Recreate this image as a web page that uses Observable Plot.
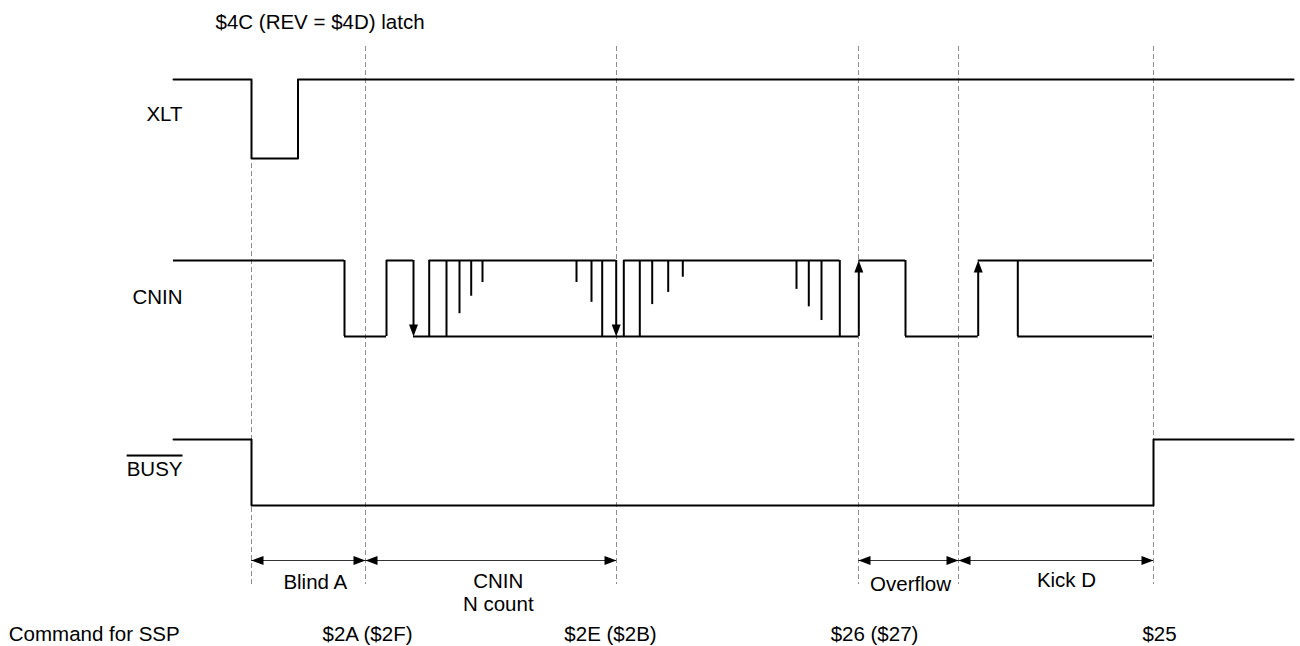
<!DOCTYPE html>
<html><head><meta charset="utf-8">
<script src="https://cdn.jsdelivr.net/npm/d3@7"></script>
<script src="https://cdn.jsdelivr.net/npm/@observablehq/plot@0.6"></script>
<style>body{margin:0;background:#fff}</style>
</head><body><div id="chart"></div>
<script>
// ---------- data (time axis in arbitrary timing units, levels 0 = low, 1 = high) ----------
const titleText = "$4C (REV = $4D) latch";
const signalNames = ["XLT", "CNIN", "BUSY"];
const xltT = [173, 251, 297.5, 1293];
const xltV = [1, 0, 1, 1];
const busyT = [173, 251, 1153, 1293];
const busyV = [1, 0, 1, 1];
const cninHighFrom = [173, 386, 428.7, 623.3, 858.3, 977.7];
const cninHighTo   = [344, 413, 615.7, 839.3, 905, 1152];
const cninLowFrom  = [344, 413, 905, 1017.3];
const cninLowTo    = [386, 858.3, 977.7, 1152];
const cninEdgeT = [344, 386, 428.7, 446, 601.7, 623.3, 639.3, 839.3, 905, 1017.3];
const cninDownArrowT = [413, 615.7];
const cninUpArrowT = [858.3, 977.7];
const glitchT = [459, 470.7, 482, 576, 591, 651.7, 667.7, 682.3, 796, 808.3, 821];
const glitchLevel = [0.30, 0.53, 0.71, 0.71, 0.45, 0.42, 0.58, 0.78, 0.62, 0.39, 0.21];
const markerT = [251, 365, 616, 858, 958, 1153];
const spanStart = [251, 365, 858, 958];
const spanEnd = [365, 616, 958, 1153];
const spanLabels = ["Blind A", "CNIN", "N count", "Overflow", "Kick D"];
const spanLabelT = [314.8, 497.8, 497.8, 910, 1066];
const commandHeader = "Command for SSP";
const commandLabels = ["$2A ($2F)", "$2E ($2B)", "$26 ($27)", "$25"];
const commandT = [367, 610, 874, 1159];

// ---------- layout ----------
const W = 1300, H = 646;
const FS = 20.5;
const lanes = {XLT: {hi: 79, lo: 158, label: 120.7}, CNIN: {hi: 260, lo: 336, label: 303}, BUSY: {hi: 439, lo: 505, label: 475}};
const labelRight = 182;
const markerTop = 46, markerBottom = 584, firstMarkerTop = 163;
const spanY = 560;
const spanLabelBase = [588, 587.3, 610, 590, 586.7];
const commandBase = 640;
const titleX = 215, titleBase = 28.3;

const lvl = (lane, v) => lanes[lane].lo + v * (lanes[lane].hi - lanes[lane].lo);

const xlt = xltT.map((t, i) => ({t, y: lvl("XLT", xltV[i])}));
const busy = busyT.map((t, i) => ({t, y: lvl("BUSY", busyV[i])}));
const cninH = cninHighFrom.map((a, i) => ({a, b: cninHighTo[i], y: lvl("CNIN", 1)}));
const cninL = cninLowFrom.map((a, i) => ({a, b: cninLowTo[i], y: lvl("CNIN", 0)}));
const glitches = glitchT.map((t, i) => ({t, y1: lvl("CNIN", 1), y2: lvl("CNIN", glitchLevel[i])}));
const markers = markerT.map((t, i) => ({t, y1: i === 0 ? firstMarkerTop : markerTop, y2: markerBottom}));
const spans = spanStart.map((a, i) => ({a, b: spanEnd[i]}));
const spanText = spanLabels.map((s, i) => ({s, t: spanLabelT[i], y: spanLabelBase[i]}));
const cmdText = commandLabels.map((s, i) => ({s, t: commandT[i]}));
const nameText = signalNames.map(s => ({s, y: lanes[s].label}));

// elongated filled arrowhead, tip at origin pointing up
const head = {draw(ctx) { ctx.moveTo(0, 0); ctx.lineTo(4.5, 12); ctx.lineTo(-4.5, 12); ctx.closePath(); }};
const heads = [
  ...cninDownArrowT.map(t => ({t, y: lvl("CNIN", 0), r: 180})),
  ...cninUpArrowT.map(t => ({t, y: lvl("CNIN", 1), r: 0})),
  ...spans.flatMap(s => [{t: s.a, y: spanY, r: -90}, {t: s.b, y: spanY, r: 90}])
];
const arrowShafts = [
  ...cninDownArrowT.map(t => ({t, y1: lvl("CNIN", 1), y2: lvl("CNIN", 0) - 6})),
  ...cninUpArrowT.map(t => ({t, y1: lvl("CNIN", 0), y2: lvl("CNIN", 1) + 6}))
];

const sig = {stroke: "#000", strokeWidth: 2};
const svg = Plot.plot({
  width: W, height: H, margin: 0,
  style: {fontFamily: "Liberation Sans, Arial, Helvetica, sans-serif", background: "#fff", color: "#000"},
  x: {domain: [0, W], range: [0, W], axis: null},
  y: {domain: [0, H], range: [0, H], axis: null},
  marks: [
    Plot.ruleX(markers, {x: "t", y1: "y1", y2: "y2", stroke: "#8c8c8c", strokeWidth: 1, strokeDasharray: "5,3"}),
    Plot.line(xlt, {x: "t", y: "y", curve: "step-after", ...sig}),
    Plot.line(busy, {x: "t", y: "y", curve: "step-after", ...sig}),
    Plot.ruleY(cninH, {x1: "a", x2: "b", y: "y", ...sig}),
    Plot.ruleY(cninL, {x1: "a", x2: "b", y: "y", ...sig}),
    Plot.ruleX(cninEdgeT, {x: d => d, y1: lvl("CNIN", 1), y2: lvl("CNIN", 0), ...sig}),
    Plot.ruleX(glitches, {x: "t", y1: "y1", y2: "y2", ...sig}),
    Plot.ruleX(arrowShafts, {x: "t", y1: "y1", y2: "y2", ...sig}),
    Plot.ruleY(spans, {x1: "a", x2: "b", y: spanY, stroke: "#333", strokeWidth: 1}),
    Plot.dot(heads, {x: "t", y: "y", rotate: "r", symbol: head, r: 5, fill: "#000", stroke: "none"}),
    Plot.text([titleText], {x: titleX, y: titleBase, text: d => d, textAnchor: "start", lineAnchor: "bottom", fontSize: FS, fill: "#000"}),
    Plot.text(nameText, {x: labelRight, y: "y", text: "s", textAnchor: "end", lineAnchor: "bottom", fontSize: FS, fill: "#000"}),
    Plot.text(spanText, {x: "t", y: "y", text: "s", lineAnchor: "bottom", fontSize: FS, fill: "#000"}),
    Plot.text(cmdText, {x: "t", y: commandBase, text: "s", lineAnchor: "bottom", fontSize: FS, fill: "#000"}),
    Plot.text([commandHeader], {x: 8.3, y: commandBase, text: d => d, textAnchor: "start", lineAnchor: "bottom", fontSize: FS, fill: "#000"})
  ]
});
d3.select(svg).selectAll("text").filter(function() { return this.textContent === "BUSY"; })
  .style("text-decoration", "overline");
document.getElementById("chart").appendChild(svg);
</script>
</body></html>
